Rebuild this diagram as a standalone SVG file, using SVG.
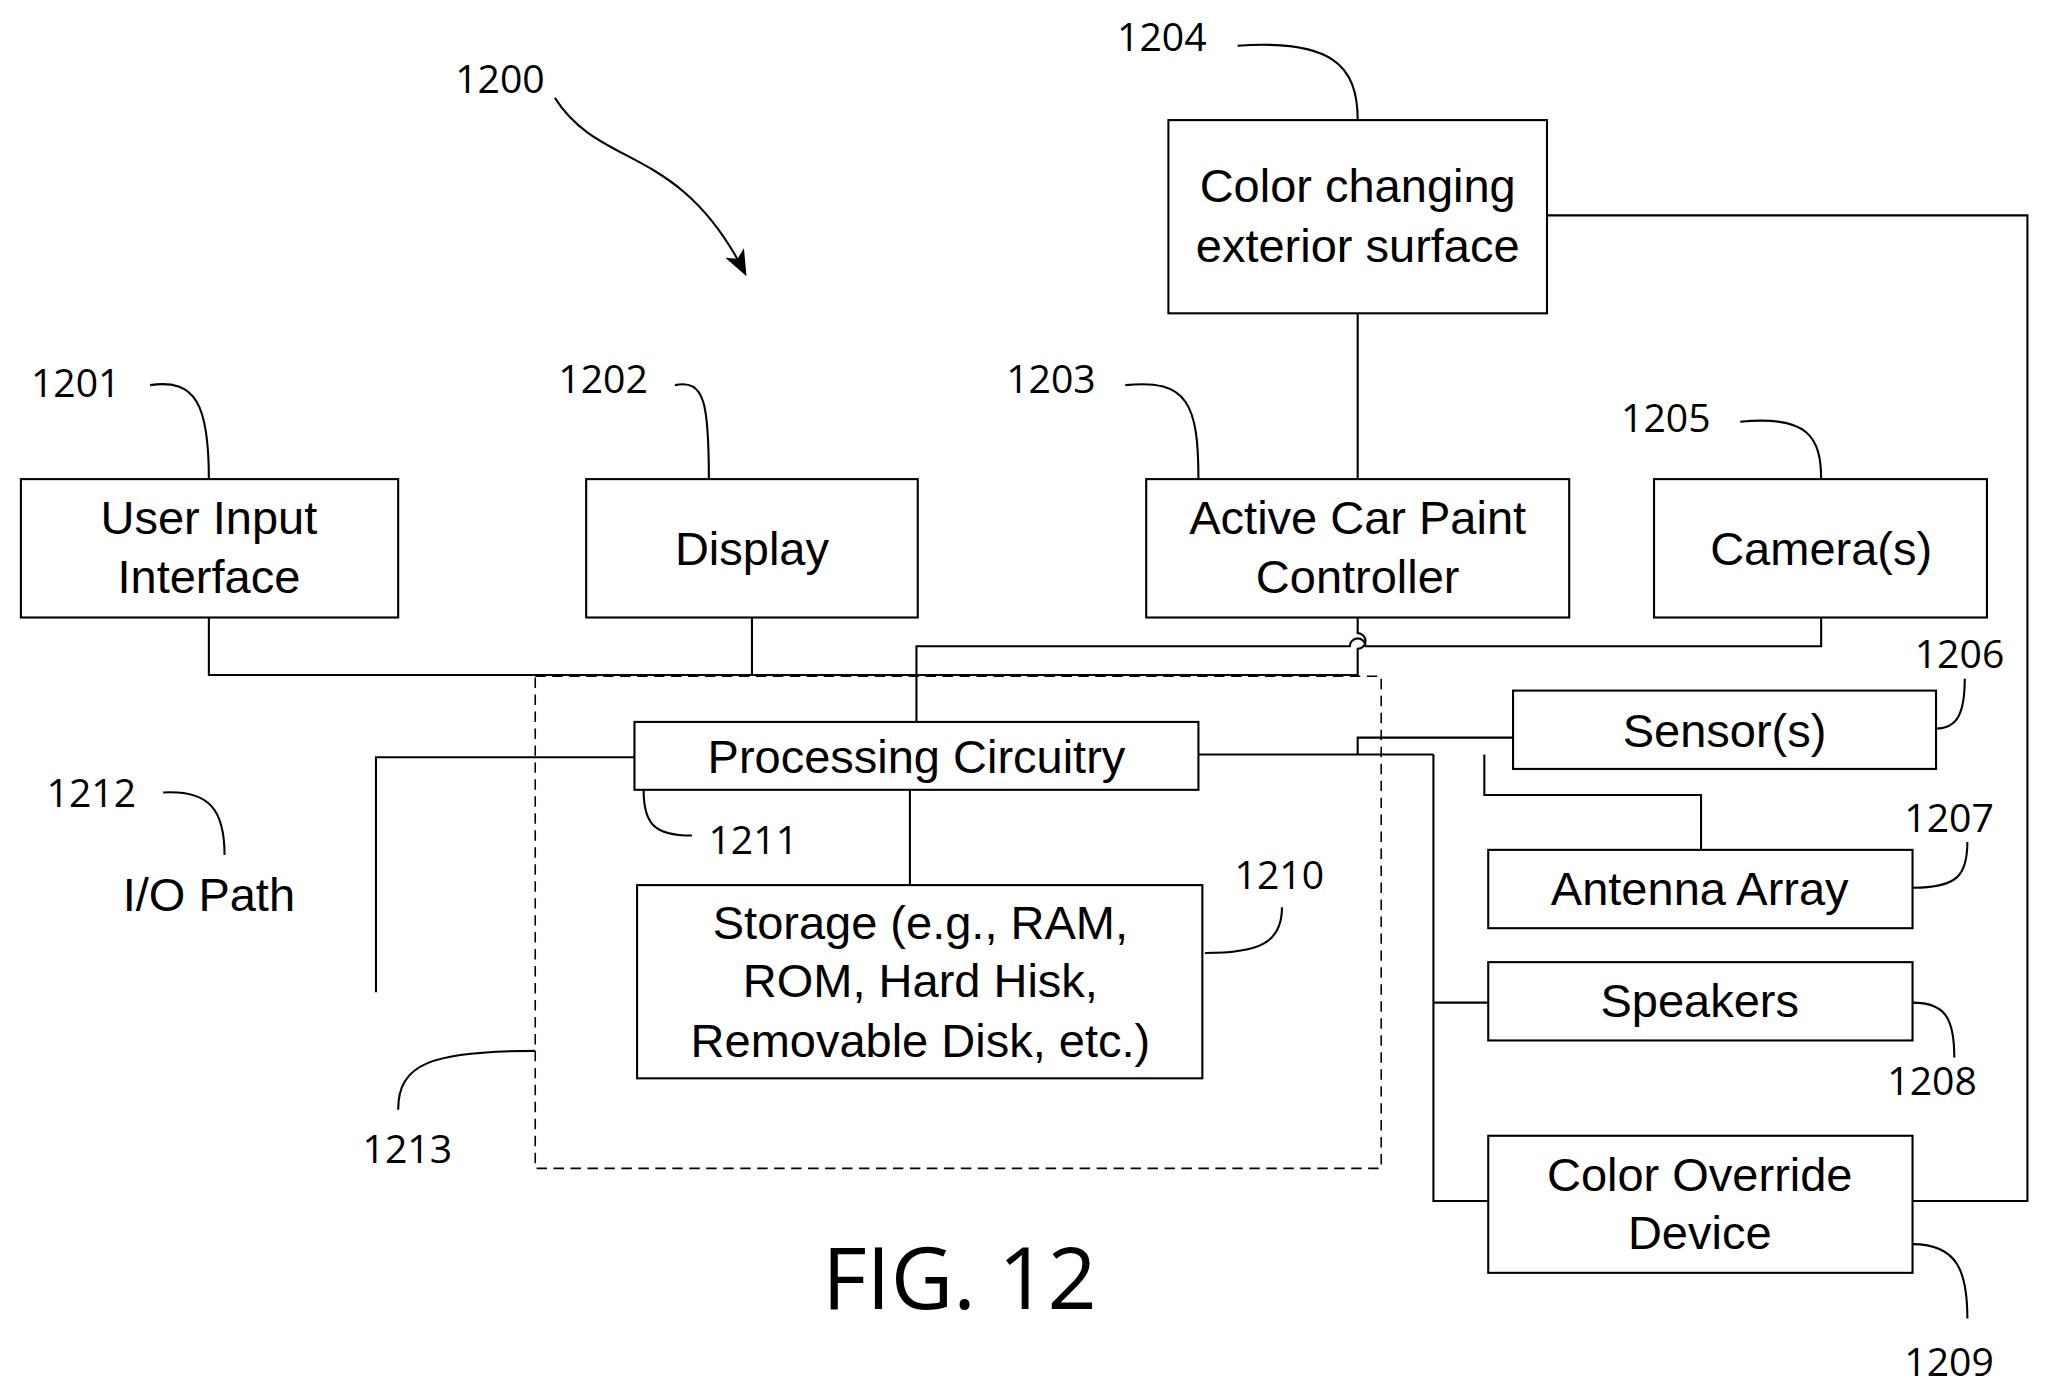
<svg xmlns="http://www.w3.org/2000/svg" width="2047" height="1397" viewBox="0 0 2047 1397">
<style>
.b{fill:#fff;stroke:#000;stroke-width:1.6}
.l{fill:none;stroke:#000;stroke-width:1.6}
.t{font-family:"Liberation Sans",Arial,sans-serif;font-size:36px;text-anchor:middle;fill:#000}
.n{font-family:"Open Sans","Liberation Sans",sans-serif;font-size:30px;text-anchor:middle;fill:#000}
</style>
<defs><marker id="ah" markerWidth="20" markerHeight="20" refX="16" refY="8" orient="auto" markerUnits="userSpaceOnUse" viewBox="0 0 20 16"><path d="M0,0 L20,8 L0,16 L5,8 z" fill="#000"/></marker></defs>
<rect width="2047" height="1397" fill="#fff"/>
<g transform="scale(1.30548)">
<g id="connectors">
<path class="l" d="M1185,165 H1553 V920 H1465"/>
<path class="l" d="M1040,240 V367"/>
<path class="l" d="M160,473 V517 H1040 V497 A6,6 0 0 0 1040,485 V473"/>
<path class="l" d="M576,473 V517"/>
<path class="l" d="M702,553 V495 H1034 A6,6 0 0 1 1046,495 H1395 V473"/>
<path class="l" d="M486,580 H288 V760"/>
<path class="l" d="M697,605 V678"/>
<path class="l" d="M918,578 H1098"/>
<path class="l" d="M1040,578 V565 H1159"/>
<path class="l" d="M1137,578 V609 H1303 V651"/>
<path class="l" d="M1098,578 V920 H1140 M1098,768 H1140"/>
<rect x="410" y="518" width="648" height="377" fill="none" stroke="#000" stroke-width="1.2" stroke-dasharray="8,5"/>
<path class="l" d="M425,75 C460,130 520,110 570,208" marker-end="url(#ah)"/>
<path class="l" d="M948,35 C1020,30 1040,50 1040,92"/>
<path class="l" d="M115,295 C150,290 160,310 160,367"/>
<path class="l" d="M517,295 C540,290 543,310 543,367"/>
<path class="l" d="M862,295 C910,290 918,310 918,367"/>
<path class="l" d="M1333,323 C1385,318 1395,335 1395,367"/>
<path class="l" d="M125,607 C160,605 172,620 172,655"/>
<path class="l" d="M493,605 C493,630 500,640 530,640"/>
<path class="l" d="M923,730 C965,730 982,722 982,695"/>
<path class="l" d="M305,850 C305,815 330,805 410,805"/>
<path class="l" d="M1483,558 C1500,558 1505,545 1505,520"/>
<path class="l" d="M1465,680 C1500,680 1507,670 1507,645"/>
<path class="l" d="M1465,768 C1490,768 1497,780 1497,810"/>
<path class="l" d="M1465,953 C1500,953 1507,975 1507,1010"/>
</g>
<g id="n1204"><rect class="b" x="895" y="92" width="290" height="148"/><text class="t" x="1040" y="155">Color changing</text><text class="t" x="1040" y="201">exterior surface</text></g>
<g id="n1201"><rect class="b" x="16" y="367" width="289" height="106"/><text class="t" x="160" y="409">User Input</text><text class="t" x="160" y="454">Interface</text></g>
<g id="n1202"><rect class="b" x="449" y="367" width="254" height="106"/><text class="t" x="576" y="433">Display</text></g>
<g id="n1203"><rect class="b" x="878" y="367" width="324" height="106"/><text class="t" x="1040" y="409">Active Car Paint</text><text class="t" x="1040" y="454">Controller</text></g>
<g id="n1205"><rect class="b" x="1267" y="367" width="255" height="106"/><text class="t" x="1395" y="433">Camera(s)</text></g>
<g id="n1211"><rect class="b" x="486" y="553" width="432" height="52"/><text class="t" x="702" y="592">Processing Circuitry</text></g>
<g id="n1210"><rect class="b" x="488" y="678" width="433" height="148"/><text class="t" x="705" y="719">Storage (e.g., RAM,</text><text class="t" x="705" y="764">ROM, Hard Hisk,</text><text class="t" x="705" y="810">Removable Disk, etc.)</text></g>
<g id="n1206"><rect class="b" x="1159" y="529" width="324" height="60"/><text class="t" x="1321" y="572">Sensor(s)</text></g>
<g id="n1207"><rect class="b" x="1140" y="651" width="325" height="60"/><text class="t" x="1302" y="693">Antenna Array</text></g>
<g id="n1208"><rect class="b" x="1140" y="737" width="325" height="60"/><text class="t" x="1302" y="779">Speakers</text></g>
<g id="n1209"><rect class="b" x="1140" y="870" width="325" height="105"/><text class="t" x="1302" y="912">Color Override</text><text class="t" x="1302" y="957">Device</text></g>
<g id="labels">
<text class="n" x="383" y="71">1200</text>
<text class="n" x="890" y="39">1204</text>
<text class="n" x="58" y="304">1201</text>
<text class="n" x="462" y="301">1202</text>
<text class="n" x="805" y="301">1203</text>
<text class="n" x="1276" y="331">1205</text>
<text class="n" x="1501" y="512">1206</text>
<text class="n" x="1493" y="637">1207</text>
<text class="n" x="1480" y="839">1208</text>
<text class="n" x="1493" y="1054">1209</text>
<text class="n" x="980" y="681">1210</text>
<text class="n" x="577" y="654">1211</text>
<text class="n" x="70" y="618">1212</text>
<text class="n" x="312" y="891">1213</text>
<text class="t" x="160" y="698">I/O Path</text>
<text class="n" x="735" y="1003" style="font-size:66px">FIG. 12</text>
</g>
</g>
</svg>
